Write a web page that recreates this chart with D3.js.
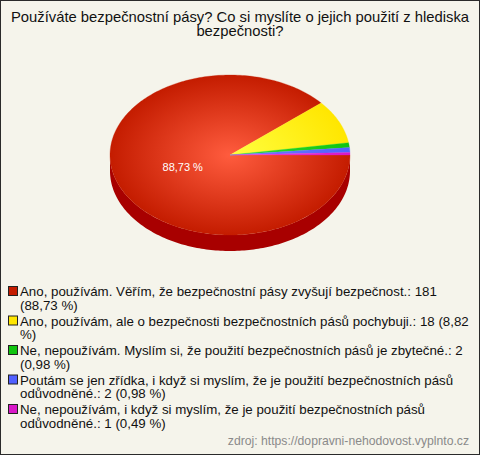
<!DOCTYPE html>
<html><head><meta charset="utf-8">
<script src="https://cdn.jsdelivr.net/npm/d3@7"></script>
<style>
html,body{margin:0;padding:0;background:#fff;}
text{font-family:"Liberation Sans",Arial,sans-serif;}
</style></head>
<body>
<svg id="chart" width="480" height="455"></svg>
<script>
const titleLines = ["Používáte bezpečnostní pásy? Co si myslíte o jejich použití z hlediska", "bezpečnosti?"];
const categories = [
  "Ano, používám. Věřím, že bezpečnostní pásy zvyšují bezpečnost.",
  "Ano, používám, ale o bezpečnosti bezpečnostních pásů pochybuji.",
  "Ne, nepoužívám. Myslím si, že použití bezpečnostních pásů je zbytečné.",
  "Poutám se jen zřídka, i když si myslím, že je použití bezpečnostních pásů odůvodněné.",
  "Ne, nepoužívám, i když si myslím, že je použití bezpečnostních pásů odůvodněné."
];
const counts = [181, 18, 2, 2, 1];
const percents = ["88,73 %", "8,82 %", "0,98 %", "0,98 %", "0,49 %"];
const topColors = ["#c41c00", "#ffe600", "#10c410", "#5060ff", "#d818c8"];
const centerColors = ["#ff5c3e", "#ffff40", "#30e030", "#7080ff", "#f040e0"];
const sideColors = ["#a80000", "#c8b000", "#089008", "#3040c0", "#a010a0"];
const sourceText = "zdroj: https://dopravni-nehodovost.vyplnto.cz";

const W = 480, H = 455;
const svg = d3.select("#chart");
svg.append("rect").attr("x",0.5).attr("y",0.5).attr("width",W-1).attr("height",H-1)
  .attr("fill","#f5f4eb").attr("stroke","#2a2a2a").attr("stroke-width",1);

svg.selectAll("text.title").data(titleLines).join("text").attr("class","title")
  .attr("x", W/2).attr("y",(d,i)=>21.5+i*14.8).attr("text-anchor","middle")
  .attr("font-size",14.8).attr("fill","#111").text(d=>d);

const cx = 230, cy = 155, rx = 120, ry = 80, depth = 16;
const pie = d3.pie().sort(null).value(d=>d).startAngle(0).endAngle(2*Math.PI);
const arcs = pie(counts);
// screen angle: 0 = east, clockwise
const pt = (a, dy=0) => [cx + rx*Math.cos(a), cy + ry*Math.sin(a) + dy];

const defs = svg.append("defs");
arcs.forEach((a,i)=>{
  const g = defs.append("radialGradient").attr("id","g"+i).attr("gradientUnits","userSpaceOnUse")
    .attr("cx",cx).attr("cy",cy).attr("r",rx)
    .attr("gradientTransform",`translate(${cx},${cy}) scale(1,${ry/rx}) translate(${-cx},${-cy})`);
  g.append("stop").attr("offset","0%").attr("stop-color",centerColors[i]);
  g.append("stop").attr("offset","100%").attr("stop-color",topColors[i]);
});

// sides (front half: angles 0..PI)
const sideG = svg.append("g");
arcs.forEach((a,i)=>{
  const s = Math.max(a.startAngle, 0), e = Math.min(a.endAngle, Math.PI);
  if (e <= s) return;
  const n = Math.max(2, Math.ceil((e-s)/0.02));
  const p = d3.path();
  for (let k=0;k<=n;k++){ const t = s+(e-s)*k/n; const q = pt(t); k===0?p.moveTo(q[0],q[1]):p.lineTo(q[0],q[1]); }
  for (let k=n;k>=0;k--){ const t = s+(e-s)*k/n; const q = pt(t,depth); p.lineTo(q[0],q[1]); }
  p.closePath();
  sideG.append("path").attr("d",p.toString()).attr("fill",sideColors[i]);
});

// top faces
const topG = svg.append("g");
arcs.forEach((a,i)=>{
  const s = a.startAngle, e = a.endAngle;
  const n = Math.max(2, Math.ceil((e-s)/0.02));
  const p = d3.path();
  p.moveTo(cx,cy);
  for (let k=0;k<=n;k++){ const t = s+(e-s)*k/n; const q = pt(t); p.lineTo(q[0],q[1]); }
  p.closePath();
  topG.append("path").attr("d",p.toString()).attr("fill",`url(#g${i})`)
    .attr("stroke",`url(#g${i})`).attr("stroke-width",0.3);
});

// label for the big slice
arcs.forEach((a,i)=>{
  if (counts[i]/d3.sum(counts) < 0.2) return;
  const m = (a.startAngle+a.endAngle)/2, f = 0.42;
  svg.append("text").attr("x", cx + rx*f*Math.cos(m)).attr("y", cy + ry*f*Math.sin(m)+4)
    .attr("text-anchor","middle").attr("font-size",11).attr("fill","#fff").text(percents[i]);
});

// legend
const legX = 8, textX = 20, maxW = 452, lineH = 13.8, legFont = 13.3;
const legStart = 291, legStep = 29.5;
categories.forEach((c,i)=>{
  const y0 = legStart + i*legStep;
  svg.append("rect").attr("x",legX+0.5).attr("y",y0-4.5).attr("width",9).attr("height",9)
    .attr("fill",topColors[i]).attr("stroke","#222").attr("stroke-width",1);
  const full = `${c}: ${counts[i]} (${percents[i]})`;
  const words = full.split(" ");
  const t = svg.append("text").attr("font-size",legFont).attr("fill","#111");
  let lines = [], cur = "";
  const meas = svg.append("text").attr("font-size",legFont);
  words.forEach(w=>{
    const test = cur ? cur+" "+w : w;
    meas.text(test);
    if (meas.node().getComputedTextLength() > maxW && cur){ lines.push(cur); cur = w; } else cur = test;
  });
  lines.push(cur); meas.remove();
  lines.forEach((l,k)=>{
    t.append("tspan").attr("x",textX).attr("y",y0+5+k*lineH).text(l);
  });
});

svg.append("text").attr("x",469).attr("y",445).attr("text-anchor","end")
  .attr("font-size",12.2).attr("fill","#8a8a8a").text(sourceText);
</script>
</body></html>
